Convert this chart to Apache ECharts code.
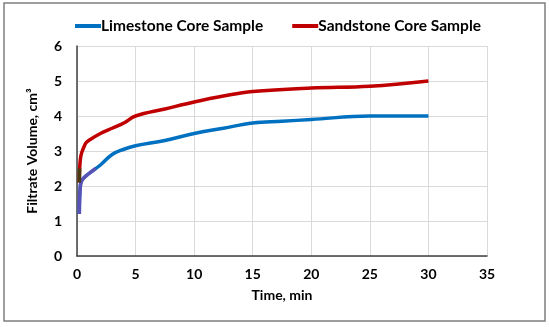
<!DOCTYPE html>
<html><head><meta charset="utf-8">
<script src="https://cdn.jsdelivr.net/npm/echarts@6/dist/echarts.min.js"></script>
<style>html,body{margin:0;padding:0;background:#fff}#c{width:550px;height:327px}</style>
</head><body><div id="c"></div>
<script>
var seriesNames = ['Limestone Core Sample', 'Sandstone Core Sample'];
var limestone = [[0.2,1.2],[0.3,2.05],[0.5,2.2],[1,2.35],[2,2.6],[3,2.9],[4,3.05],[5,3.15],[7.5,3.3],[10,3.5],[12.5,3.65],[15,3.8],[17.5,3.85],[20,3.9],[25,4.0],[30,4.0]];
var sandstone = [[0.2,2.1],[0.3,2.8],[0.7,3.2],[1,3.3],[2,3.5],[3,3.65],[4,3.8],[5,4.0],[7.5,4.2],[10,4.4],[12.5,4.57],[15,4.7],[20,4.8],[25,4.85],[30,5.0]];
var limestoneEarly = [[0.2,1.2],[0.3,2.05],[0.5,2.2],[1,2.35],[1.6,2.5]];
var sandstoneEarly = [[0.2,2.1],[0.22,2.5]];
var xTicks = [0,5,10,15,20,25,30,35];
var yTicks = [0,1,2,3,4,5,6];
var font = 'Lato';
var chart = echarts.init(document.getElementById('c'));
chart.setOption({
  animation:false,
  graphic:[{type:'rect',shape:{x:4,y:3,width:541,height:318},style:{fill:'none',stroke:'#7f7f7f',lineWidth:1.5}}],
  legend:{top:13,left:70,itemWidth:26,itemHeight:4,itemGap:29,icon:'rect',
    textStyle:{fontFamily:font,fontWeight:'bold',fontSize:15.5,color:'#000',padding:[0,0,0,-5]},
    data:seriesNames},
  grid:{left:77,right:63,top:46,bottom:71},
  xAxis:{type:'value',min:0,max:35,interval:5,
    name:'Time, min',nameLocation:'middle',nameGap:32,
    nameTextStyle:{fontFamily:font,fontWeight:'bold',fontSize:14,color:'#000'},
    axisLine:{lineStyle:{color:'#404040',width:1.5}},axisTick:{show:false},
    axisLabel:{fontFamily:font,fontWeight:'bold',fontSize:14,color:'#000',margin:11,
      formatter:function(v){return xTicks.indexOf(v)>=0?String(v):'';}},
    splitLine:{show:true,lineStyle:{color:'#d9d9d9'}}},
  yAxis:{type:'value',min:0,max:6,interval:1,
    name:'Filtrate Volume, cm³',nameLocation:'middle',nameGap:38,
    nameTextStyle:{fontFamily:font,fontWeight:'bold',fontSize:14,color:'#000'},
    axisLine:{show:true,lineStyle:{color:'#404040',width:1.5}},axisTick:{show:false},
    axisLabel:{fontFamily:font,fontWeight:'bold',fontSize:14,color:'#000',margin:15,
      formatter:function(v){return yTicks.indexOf(v)>=0?String(v):'';}},
    splitLine:{show:true,lineStyle:{color:'#d9d9d9'}}},
  series:[
    {name:seriesNames[0],type:'line',data:limestone,smooth:0.4,showSymbol:false,
      lineStyle:{width:3.5,color:'#0070C0'},itemStyle:{color:'#0070C0'}},
    {name:seriesNames[1],type:'line',data:sandstone,smooth:0.4,showSymbol:false,
      lineStyle:{width:3.5,color:'#C00000'},itemStyle:{color:'#C00000'}},
    {name:'early1',type:'line',data:limestoneEarly,smooth:0.4,showSymbol:false,silent:true,
      lineStyle:{width:3.5,color:'#5B52B8'}},
    {name:'early2',type:'line',data:sandstoneEarly,showSymbol:false,silent:true,
      lineStyle:{width:3.5,color:'#4A3A10'}}
  ]
});
</script></body></html>
